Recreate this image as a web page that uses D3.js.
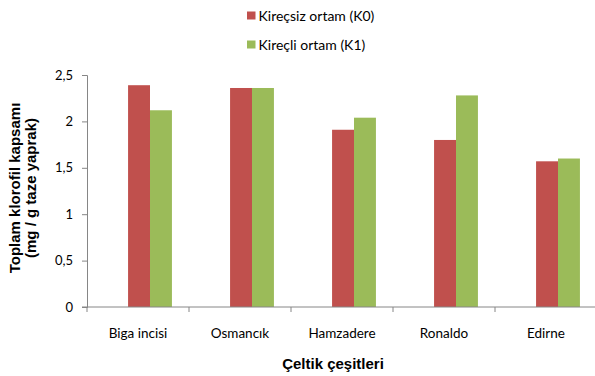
<!DOCTYPE html>
<html>
<head>
<meta charset="utf-8">
<script src="https://cdn.jsdelivr.net/npm/d3@7"></script>
<style>
  html, body { margin: 0; padding: 0; background: #fff; }
  svg { display: block; }
  text { font-family: Lato, "Open Sans", sans-serif; }
</style>
</head>
<body>
<svg id="chart" width="595" height="376"></svg>
<script>
// Rice cultivars and total chlorophyll content (mg / g fresh leaf)
const categories = ["Biga incisi", "Osmancık", "Hamzadere", "Ronaldo", "Edirne"];
const seriesNames = ["Kireçsiz ortam (K0)", "Kireçli ortam (K1)"];
const k0Values = [2.39, 2.36, 1.91, 1.80, 1.57];
const k1Values = [2.12, 2.36, 2.04, 2.28, 1.60];
const yTicks = [0, 0.5, 1, 1.5, 2, 2.5];
const colors = ["#C0504D", "#9BBB59"];

const svg = d3.select("#chart");
const plotLeft = 87, plotRight = 597, plotTop = 75, plotBottom = 307;

const y = d3.scaleLinear().domain([0, 2.5]).range([plotBottom, plotTop]);
const x = d3.scaleBand().domain(categories).range([plotLeft, plotRight]).padding(0);
// bars sit a little right of the category centre
const xBars = d3.scaleBand().domain(categories).range([plotLeft + 12, plotRight + 12]).paddingInner(0.57).paddingOuter(0.285);
const xSub = d3.scaleBand().domain([0, 1]).range([0, xBars.bandwidth()]);

const fmt = v => String(v).replace(".", ",");
const axisColor = "#868686";
const titleFont = "'Liberation Sans', Arial, sans-serif";

// bars
const data = categories.map((c, i) => ({ c, vals: [k0Values[i], k1Values[i]] }));
const groups = svg.append("g").selectAll("g").data(data).join("g")
  .attr("transform", d => `translate(${xBars(d.c)},0)`);
groups.selectAll("rect").data(d => d.vals.map((v, k) => ({ v, k }))).join("rect")
  .attr("x", d => xSub(d.k))
  .attr("width", xSub.bandwidth())
  .attr("y", d => y(d.v))
  .attr("height", d => y(0) - y(d.v))
  .attr("fill", d => colors[d.k]);

// y axis
const yAxis = d3.axisLeft(y).tickValues(yTicks).tickFormat(fmt).tickSize(5).tickPadding(9);
const gy = svg.append("g").attr("transform", `translate(${plotLeft},0)`).call(yAxis);
gy.select(".domain").attr("stroke", axisColor);
gy.selectAll(".tick line").attr("stroke", axisColor);
gy.selectAll(".tick text").attr("fill", "#000").style("font-size", "13px")
  .style("font-family", "Lato, sans-serif");

// x axis: ticks at category boundaries
const gx = svg.append("g").attr("transform", `translate(0,${plotBottom})`);
gx.append("line").attr("x1", plotLeft - 5).attr("x2", 595).attr("y1", 0).attr("y2", 0).attr("stroke", axisColor);
const boundaries = categories.map(c => x(c)).concat([plotRight]);
gx.selectAll("line.t").data(boundaries).join("line").attr("class", "t")
  .attr("x1", d => d).attr("x2", d => d).attr("y1", 0).attr("y2", 5).attr("stroke", axisColor);
gx.selectAll("text").data(categories).join("text")
  .attr("x", d => x(d) + x.bandwidth() / 2)
  .attr("y", 31)
  .attr("text-anchor", "middle")
  .style("font-size", "13.5px")
  .text(d => d);

// axis titles
svg.append("text")
  .attr("x", 333).attr("y", 369)
  .attr("text-anchor", "middle")
  .style("font-size", "15px").style("font-weight", "bold")
  .style("font-family", titleFont)
  .text("Çeltik çeşitleri");

const yTitle = svg.append("text")
  .attr("transform", "translate(20,188) rotate(-90)")
  .attr("text-anchor", "middle")
  .style("font-size", "15px").style("font-weight", "bold")
  .style("font-family", titleFont);
yTitle.append("tspan").attr("x", 0).attr("dy", 0).text("Toplam klorofil kapsamı");
yTitle.append("tspan").attr("x", 0).attr("dy", 16).text("(mg / g taze yaprak)");

// legend
const legend = svg.append("g").selectAll("g").data(seriesNames).join("g")
  .attr("transform", (d, i) => `translate(247,${15.5 + i * 29})`);
legend.append("rect").attr("x", 0).attr("y", -4).attr("width", 8.5).attr("height", 8)
  .attr("fill", (d, i) => colors[i]);
legend.append("text").attr("x", 11.5).attr("y", 5)
  .style("font-size", "14px").text(d => d);
</script>
</body>
</html>
